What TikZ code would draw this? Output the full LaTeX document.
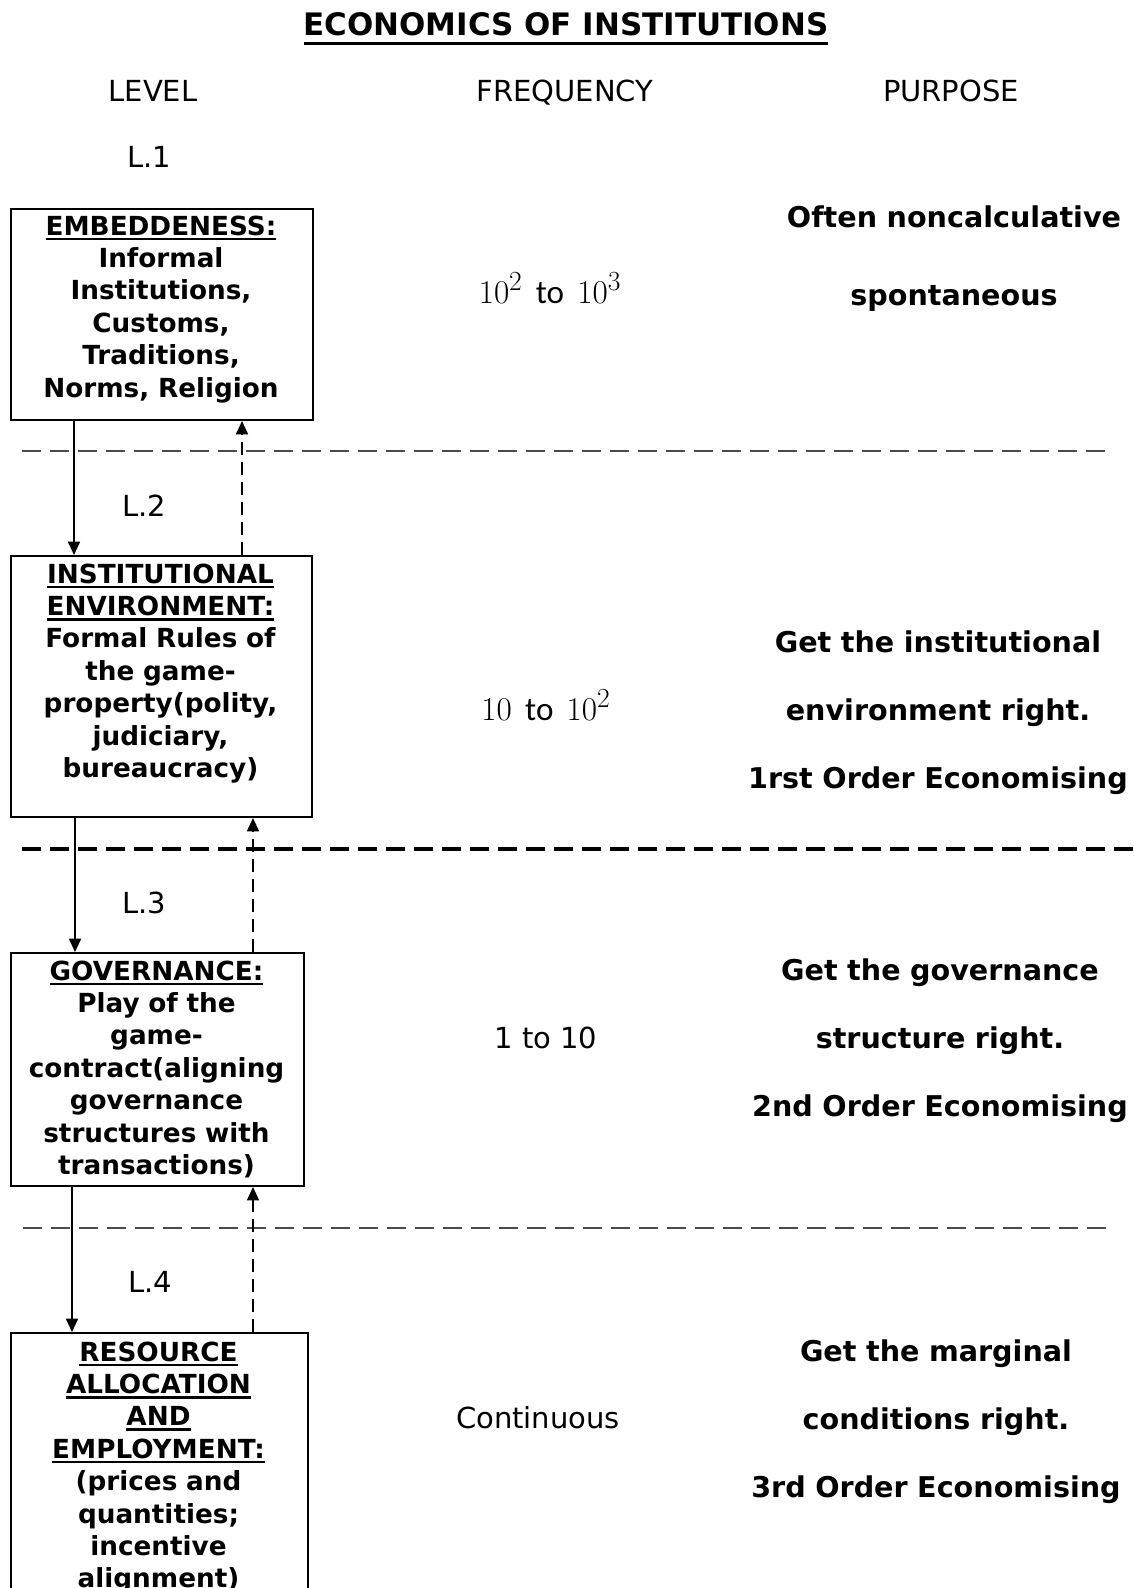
\documentclass[tikz,border=0pt]{standalone}
\usepackage[no-math]{fontspec}
\setmainfont{DejaVu Sans}
\newfontfamily\calfont{Carlito}
\usetikzlibrary{arrows.meta,positioning}

% underlined headings
\newcommand{\hdline}[1]{\leavevmode\vtop{\hbox{#1}\kern2pt\hrule height 1.6pt}}
\newcommand{\ttlline}[1]{\leavevmode\vtop{\hbox{#1}\kern4pt\hrule height 2.4pt}}

\begin{document}
\begin{tikzpicture}[x=0.75pt,y=-0.75pt,
    title/.style={font=\fontsize{23.2}{27}\selectfont\bfseries, anchor=base, inner sep=0pt},
    header/.style={font=\fontsize{21.75}{26}\selectfont, anchor=base, inner sep=0pt},
    levelbox/.style={draw, line width=1.5pt, anchor=north west, inner sep=0pt},
    boxtext/.style={font=\fontsize{19.7}{24.3}\selectfont\bfseries, text width=225pt, align=center, anchor=base, inner sep=0pt},
    purpose/.style={font=\fontsize{21.45}{51}\selectfont\bfseries, text width=300pt, align=center, anchor=base, inner sep=0pt},
    freq/.style={font=\fontsize{24.88}{30}\selectfont, anchor=base, inner sep=0pt},
    divider/.style={line width=1pt, black!70, dash pattern=on 14pt off 7pt},
    bolddivider/.style={line width=2.6pt, dash pattern=on 14pt off 7pt},
    down/.style={-{Triangle[length=10pt,width=9pt]}, line width=1.3pt},
    up/.style={-{Triangle[length=10pt,width=9pt]}, line width=1.3pt, dash pattern=on 10pt off 5pt}
  ]
\useasboundingbox (0,0) rectangle (1134,1588);
\clip (0,0) rectangle (1134,1588);

% headings
\node[title] (ttl) at (566,36) {\ttlline{ECONOMICS OF INSTITUTIONS}};
\node[header] (lvl) at (153,101) {LEVEL};
\node[header] (frq) at (565,101) {FREQUENCY};
\node[header] (pur) at (951,101) {PURPOSE};

% level labels
\node[header] (l1) at (149,167) {L.1};
\node[header] (l2) at (144,516) {L.2};
\node[header] (l3) at (144,913) {L.3};
\node[header] (l4) at (150,1292) {L.4};

% separators
\draw[divider] (22,451) -- (1114,451);
\draw[bolddivider] (22,849) -- (1134,849);
\draw[divider] (23,1228) -- (1114,1228);

% level boxes
\node[levelbox, minimum width=226.5pt, minimum height=158.25pt] (emb) at (10,208) {};
\node[boxtext] (embtext) at (161,235) {\hdline{EMBEDDENESS:}\\ Informal\\ Institutions,\\ Customs,\\ Traditions,\\ Norms, Religion};

\node[levelbox, minimum width=225.75pt, minimum height=195.75pt] (inst) at (10,555) {};
\node[boxtext] (insttext) at (160.5,583) {\hdline{INSTITUTIONAL}\\ \hdline{ENVIRONMENT:}\\ Formal Rules of\\ the game-\\ property(polity,\\ judiciary,\\ bureaucracy)};

\node[levelbox, minimum width=219.75pt, minimum height=174.75pt] (gov) at (10,952) {};
\node[boxtext] (govtext) at (156.5,980) {\hdline{GOVERNANCE:}\\ Play of the\\ game-\\ contract(aligning\\ governance\\ structures with\\ transactions)};

\node[levelbox, minimum width=222.75pt, minimum height=208.5pt] (res) at (10,1332) {};
\node[boxtext] (restext) at (158.5,1361) {\hdline{RESOURCE}\\ \hdline{ALLOCATION}\\ \hdline{AND}\\ \hdline{EMPLOYMENT:}\\ (prices and\\ quantities;\\ incentive\\ alignment)};

% arrows between levels
\draw[down] ([xshift=48pt]emb.south west) -- ([xshift=48pt]inst.north west);
\draw[up] ([xshift=174pt]inst.north west) -- ([xshift=174pt]emb.south west);
\draw[down] ([xshift=48.75pt]inst.south west) -- ([xshift=48.75pt]gov.north west);
\draw[up] ([xshift=182.25pt]gov.north west) -- ([xshift=182.25pt]inst.south west);
\draw[down] ([xshift=46.5pt]gov.south west) -- ([xshift=46.5pt]res.north west);
\draw[up] ([xshift=182.25pt]res.north west) -- ([xshift=182.25pt]gov.south west);

% frequency
\node[freq] (f1) at (550,303) {$10^{2}$\hspace{0.4em}{\calfont to}\hspace{0.4em}$10^{3}$};
\node[freq] (f2) at (546,720) {$10$\hspace{0.4em}{\calfont to}\hspace{0.4em}$10^{2}$};
\node[header] (f3) at (546,1048) {1 to 10};
\node[header] (f4) at (538,1428) {Continuous};

% purpose
\node[purpose, font=\fontsize{21.45}{58.5}\selectfont\bfseries] (p1) at (954,227) {Often noncalculative\\ spontaneous};
\node[purpose] (p2) at (938,652) {Get the institutional\\ environment right.\\ 1rst Order Economising};
\node[purpose] (p3) at (940,980) {Get the governance\\ structure right.\\ 2nd Order Economising};
\node[purpose] (p4) at (936,1361) {Get the marginal\\ conditions right.\\ 3rd Order Economising};
\end{tikzpicture}
\end{document}
